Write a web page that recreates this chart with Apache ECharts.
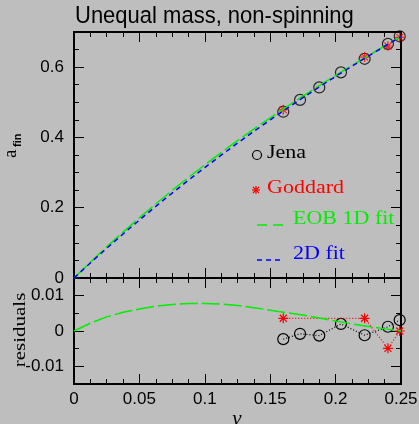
<!DOCTYPE html>
<html>
<head>
<meta charset="utf-8">
<script src="https://cdn.jsdelivr.net/npm/echarts@6/dist/echarts.min.js"></script>
<style>html,body{margin:0;padding:0;background:#bebebe;}#c{width:419px;height:424px;}</style>
</head>
<body>
<div id="c"></div>
<script>
// ---- data ----
const nuGrid   = [0,0.0125,0.025,0.0375,0.05,0.0625,0.075,0.0875,0.1,0.1125,0.125,0.1375,0.15,0.1625,0.175,0.1875,0.2,0.2125,0.225,0.2375,0.25];
const fit2D    = [0,0.0428,0.0845,0.1252,0.1649,0.2036,0.2414,0.2782,0.3142,0.3494,0.3836,0.4171,0.4499,0.4818,0.5131,0.5436,0.5735,0.6027,0.6314,0.6594,0.6869];
const eobFit   = [0,0.0450,0.0885,0.1305,0.1711,0.2106,0.2489,0.2860,0.3220,0.3570,0.3908,0.4237,0.4558,0.4870,0.5176,0.5473,0.5763,0.6047,0.6327,0.6600,0.6869];
const eobResid = [0,0.0022,0.0040,0.0053,0.0062,0.0070,0.0075,0.0078,0.0078,0.0076,0.0072,0.0066,0.0059,0.0052,0.0045,0.0037,0.0028,0.0020,0.0013,0.0006,0];
const jenaNu   = [0.16,0.1728,0.1875,0.2041,0.2222,0.24,0.249];
const jenaA    = [0.4732,0.5068,0.5423,0.5851,0.6238,0.6662,0.6878];
const jenaRes  = [-0.0023,-0.0008,-0.0013,0.0020,-0.0012,0.0012,0.0031];
const goddNu   = [0.16,0.2222,0.24,0.249];
const goddA    = [0.4791,0.6286,0.6601,0.6847];
const goddRes  = [0.0036,0.0036,-0.0049,0.0];
const topYTicks = [0,0.2,0.4,0.6];
const resYTicks = [-0.01,0,0.01];
const legendNames = ['Jena','Goddard','EOB 1D fit','2D fit'];
const titleText = 'Unequal mass, non-spinning';

// ---- chart ----
const pairs = (xs, ys) => xs.map((x, i) => [x, ys[i]]);
const BLACK = '#000';
const RED = '#ff0000';
const GREEN = '#00ee00';
const BLUE = '#0000ff';
const ast = 'path://M0,-10L0,10M-10,0L10,0M-7,-7L7,7M-7,7L7,-7';

function xAx(grid, pos, labels) {
  return {
    type: 'value', gridIndex: grid, position: pos, min: 0, max: 0.25, interval: 0.05,
    axisLine: { show: true, onZero: false, lineStyle: { color: BLACK, width: 2 } },
    axisTick: { show: true, inside: true, length: 10, lineStyle: { color: BLACK, width: 1 } },
    minorTick: { show: true, splitNumber: 4, length: 5, lineStyle: { color: BLACK, width: 1 } },
    splitLine: { show: false }, minorSplitLine: { show: false },
    axisLabel: { show: labels, margin: 7, color: BLACK, fontFamily: 'Liberation Sans', fontSize: 17,
                 formatter: v => String(+v.toFixed(4)) }
  };
}
function yMinor(grid, pos, min, max, step) {
  return {
    type: 'value', gridIndex: grid, position: pos, min: min, max: max, interval: step,
    axisLine: { show: true, onZero: false, lineStyle: { color: BLACK, width: 2 } },
    axisTick: { show: true, inside: true, length: 5, lineStyle: { color: BLACK, width: 1 } },
    splitLine: { show: false }, axisLabel: { show: false }
  };
}
function yMajor(grid, pos, min, max, ticks, labels) {
  return {
    type: 'value', gridIndex: grid, position: pos, min: min, max: max,
    axisLine: { show: true, onZero: false, lineStyle: { color: BLACK, width: 2 } },
    axisTick: { show: true, inside: true, length: 10, customValues: ticks, lineStyle: { color: BLACK, width: 1 } },
    splitLine: { show: false },
    axisLabel: { show: labels, customValues: ticks, margin: 10, color: BLACK, fontFamily: 'Liberation Sans', fontSize: 17,
                 formatter: v => String(+(+v).toFixed(4)) }
  };
}
function legendText(x, y, text, color) {
  return { type: 'text', x: x, y: y, scaleY: 0.85,
    style: { text: text, fontFamily: 'Liberation Serif', fontSize: 22, fill: color, verticalAlign: 'middle' } };
}

const chart = echarts.init(document.getElementById('c'), null, { renderer: 'canvas' });
chart.setOption({
  backgroundColor: '#bebebe',
  animation: false,
  grid: [
    { left: 74, right: 18, top: 32, height: 246, outerBoundsMode: 'none' },
    { left: 74, right: 18, top: 278, height: 106, outerBoundsMode: 'none' }
  ],
  xAxis: [
    xAx(0, 'bottom', false), xAx(0, 'top', false),
    xAx(1, 'bottom', true), xAx(1, 'top', false)
  ],
  yAxis: [
    yMinor(0, 'left', 0, 0.7, 0.05), yMajor(0, 'left', 0, 0.7, topYTicks, true),
    yMinor(0, 'right', 0, 0.7, 0.05), yMajor(0, 'right', 0, 0.7, topYTicks, false),
    yMinor(1, 'left', -0.015, 0.015, 0.005), yMajor(1, 'left', -0.015, 0.015, resYTicks, true),
    yMinor(1, 'right', -0.015, 0.015, 0.005), yMajor(1, 'right', -0.015, 0.015, resYTicks, false)
  ],
  series: [
    { name: legendNames[0], type: 'scatter', xAxisIndex: 0, yAxisIndex: 0, data: pairs(jenaNu, jenaA),
      symbol: 'circle', symbolSize: 11, itemStyle: { color: 'rgba(0,0,0,0)', borderColor: BLACK, borderWidth: 1.2 }, z: 3 },
    { name: legendNames[1], type: 'scatter', xAxisIndex: 0, yAxisIndex: 0, data: pairs(goddNu, goddA),
      symbol: ast, symbolSize: 10, itemStyle: { color: 'rgba(0,0,0,0)', borderColor: RED, borderWidth: 1.2 }, z: 4 },
    { name: legendNames[2], type: 'line', xAxisIndex: 0, yAxisIndex: 0, data: pairs(nuGrid, eobFit),
      showSymbol: false, symbol: 'none', lineStyle: { color: GREEN, width: 1.5, type: [18, 4] }, z: 5 },
    { name: legendNames[3], type: 'line', xAxisIndex: 0, yAxisIndex: 0, data: pairs(nuGrid, fit2D),
      showSymbol: false, symbol: 'none', lineStyle: { color: BLUE, width: 1.5, type: [5, 4] }, z: 6 },

    { type: 'line', xAxisIndex: 2, yAxisIndex: 4, data: pairs(nuGrid, eobResid),
      showSymbol: false, symbol: 'none', lineStyle: { color: GREEN, width: 1.5, type: [18, 4] }, z: 5 },
    { type: 'line', xAxisIndex: 2, yAxisIndex: 4, data: pairs(jenaNu, jenaRes),
      symbol: 'circle', symbolSize: 11, lineStyle: { color: BLACK, width: 1.2, type: [1, 2] },
      itemStyle: { color: 'rgba(0,0,0,0)', borderColor: BLACK, borderWidth: 1.2 }, z: 3 },
    { type: 'line', xAxisIndex: 2, yAxisIndex: 4, data: pairs(goddNu, goddRes),
      symbol: ast, symbolSize: 10, lineStyle: { color: RED, width: 1.2, type: [1, 2] },
      itemStyle: { color: 'rgba(0,0,0,0)', borderColor: RED, borderWidth: 1.2 }, z: 4 }
  ],
  graphic: [
    { type: 'text', x: 75, y: 16, scaleY: 1.12, style: { text: titleText, fontFamily: 'Liberation Sans', fontSize: 22,
      fill: BLACK, align: 'left', verticalAlign: 'middle' } },
    // legend
    { type: 'circle', shape: { cx: 257, cy: 155, r: 4.5 }, style: { fill: 'none', stroke: BLACK, lineWidth: 1.2 } },
    legendText(267, 153, legendNames[0], BLACK),
    { type: 'group', x: 256, y: 190, children: [
      { type: 'line', shape: { x1: 0, y1: -4, x2: 0, y2: 4 }, style: { stroke: RED, lineWidth: 1.2 } },
      { type: 'line', shape: { x1: -4, y1: 0, x2: 4, y2: 0 }, style: { stroke: RED, lineWidth: 1.2 } },
      { type: 'line', shape: { x1: -3, y1: -3, x2: 3, y2: 3 }, style: { stroke: RED, lineWidth: 1.2 } },
      { type: 'line', shape: { x1: -3, y1: 3, x2: 3, y2: -3 }, style: { stroke: RED, lineWidth: 1.2 } } ] },
    legendText(267, 188, legendNames[1], RED),
    { type: 'line', shape: { x1: 257, y1: 225, x2: 283, y2: 225 }, style: { stroke: GREEN, lineWidth: 1.5, lineDash: [10, 6] } },
    legendText(293, 219, legendNames[2], GREEN),
    { type: 'line', shape: { x1: 257, y1: 260, x2: 283, y2: 260 }, style: { stroke: BLUE, lineWidth: 1.5, lineDash: [5, 4] } },
    legendText(293, 254, legendNames[3], BLUE),
    // axis titles
    { type: 'text', x: 11, y: 158, rotation: Math.PI / 2, style: { text: 'a', fontFamily: 'Liberation Serif', fontSize: 19, fill: BLACK, align: 'left', verticalAlign: 'middle' } },
    { type: 'text', x: 18, y: 147, rotation: Math.PI / 2, style: { text: 'fin', fontFamily: 'Liberation Sans', fontWeight: 'bold', fontSize: 11, fill: BLACK, align: 'left', verticalAlign: 'middle' } },
    { type: 'text', x: 21, y: 330, rotation: Math.PI / 2, scaleY: 0.78, style: { text: 'residuals', fontFamily: 'Liberation Serif', fontSize: 21, fill: BLACK, align: 'center', verticalAlign: 'middle' } },
    { type: 'text', x: 237, y: 419, style: { text: 'ν', fontFamily: 'Liberation Serif', fontStyle: 'italic', fontSize: 21, fill: BLACK, align: 'center', verticalAlign: 'middle' } }
  ]
});
</script>
</body>
</html>
